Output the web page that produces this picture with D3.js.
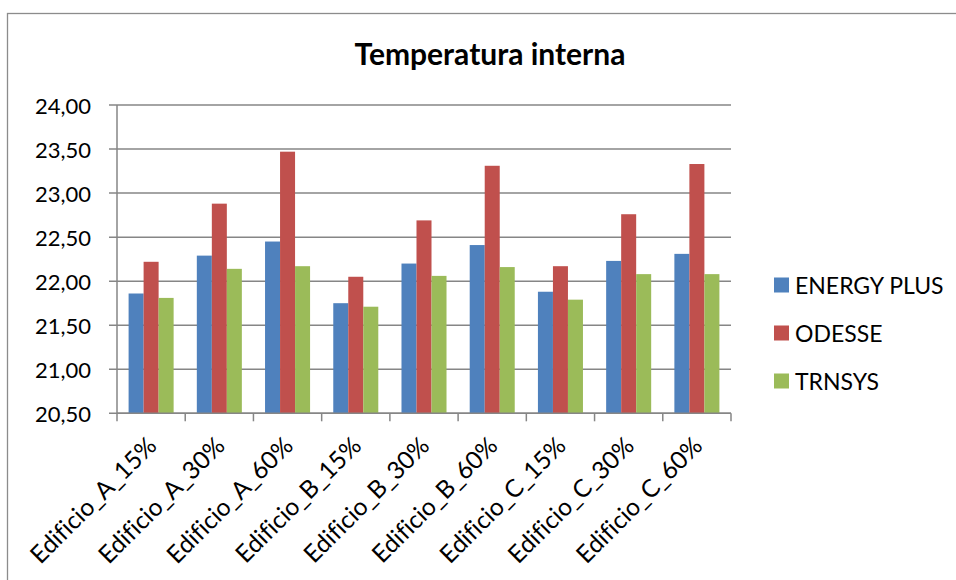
<!DOCTYPE html>
<html><head><meta charset="utf-8">
<script src="https://cdn.jsdelivr.net/npm/d3@7"></script>
<style>body{margin:0;background:#fff}svg{display:block}text{font-variant-ligatures:none;font-feature-settings:"liga" 0}</style>
</head><body>
<svg id="c" width="956" height="580"></svg>
<script>
const categories = ["Edificio_A_15%","Edificio_A_30%","Edificio_A_60%","Edificio_B_15%","Edificio_B_30%","Edificio_B_60%","Edificio_C_15%","Edificio_C_30%","Edificio_C_60%"];
const seriesNames = ["ENERGY PLUS","ODESSE","TRNSYS"];
const energyPlus = [21.86,22.29,22.45,21.75,22.20,22.41,21.88,22.23,22.31];
const odesse     = [22.22,22.88,23.47,22.05,22.69,23.31,22.17,22.76,23.33];
const trnsys     = [21.81,22.14,22.17,21.71,22.06,22.16,21.79,22.08,22.08];
const yTicks = [20.5,21,21.5,22,22.5,23,23.5,24];
const colors = ["#4F81BD","#C0504D","#9BBB59"];
const title = "Temperatura interna";

const series = [energyPlus, odesse, trnsys];
const svg = d3.select("#c");
const font = "Lato, 'Open Sans', sans-serif";

// chart border
svg.append("rect").attr("x",7.5).attr("y",13.5).attr("width",1000).attr("height",1000)
  .attr("fill","#fff").attr("stroke","#8c8c8c").attr("stroke-width",1.3);

const L=117, R=731, T=105, B=413.3;
const x = d3.scaleBand().domain(categories).range([L,R]).paddingInner(0.34).paddingOuter(0.17);
const x1 = d3.scaleBand().domain(d3.range(3)).range([0,x.bandwidth()]);
const y = d3.scaleLinear().domain([20.5,24]).range([B,T]);

// gridlines
svg.append("g").selectAll("line").data(yTicks).join("line")
  .attr("x1",L-8).attr("x2",R).attr("y1",d=>y(d)).attr("y2",d=>y(d))
  .attr("stroke","#868686").attr("stroke-width",1.5);

// y axis labels
const fmt = d => d3.format(".2f")(d).replace(".",",");
svg.append("g").selectAll("text").data(yTicks).join("text")
  .attr("x",91).attr("y",d=>y(d)+1).attr("dy","0.36em").attr("text-anchor","end")
  .attr("font-family",font).attr("font-size",22).attr("fill","#000").text(fmt);

// bars
const g = svg.append("g");
categories.forEach((c,i)=>{
  series.forEach((s,j)=>{
    g.append("rect").attr("x",x(c)+x1(j)).attr("width",x1.bandwidth())
      .attr("y",y(s[i])).attr("height",y(20.5)-y(s[i])).attr("fill",colors[j]);
  });
});

// axes lines
svg.append("line").attr("x1",L).attr("x2",L).attr("y1",T).attr("y2",B).attr("stroke","#868686").attr("stroke-width",1.5);
svg.append("line").attr("x1",L).attr("x2",R).attr("y1",B).attr("y2",B).attr("stroke","#868686").attr("stroke-width",1.5);
const step = (R-L)/categories.length;
svg.append("g").selectAll("line").data(d3.range(categories.length+1)).join("line")
  .attr("x1",d=>L+d*step).attr("x2",d=>L+d*step).attr("y1",B).attr("y2",B+8)
  .attr("stroke","#868686").attr("stroke-width",1.5);

// x labels
svg.append("g").selectAll("text").data(categories).join("text")
  .attr("transform",d=>`translate(${x(d)+x.bandwidth()/2+7},${B+34}) rotate(-45)`)
  .attr("text-anchor","end").attr("font-family",font).attr("font-size",24.5).attr("fill","#000").text(d=>d);

// title
svg.append("text").attr("x",490).attr("y",64.5).attr("text-anchor","middle")
  .attr("font-family",font).attr("font-weight","bold").attr("font-size",30).attr("fill","#000").text(title);

// legend
const lg = svg.append("g");
seriesNames.forEach((n,j)=>{
  const cy = 285 + j*48;
  lg.append("rect").attr("x",774).attr("y",cy-7.5).attr("width",15).attr("height",15).attr("fill",colors[j]);
  lg.append("text").attr("x",795).attr("y",cy+1).attr("dy","0.36em").attr("font-family",font)
    .attr("font-size",23).attr("fill","#000").text(n);
});
</script>
</body></html>
